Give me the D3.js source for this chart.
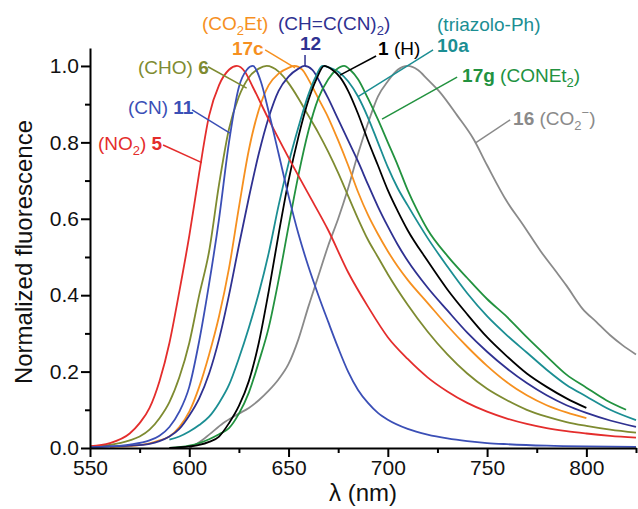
<!DOCTYPE html>
<html lang="en">
<head>
<meta charset="utf-8">
<title>Normalized fluorescence</title>
<script src="https://cdn.jsdelivr.net/npm/d3@7"></script>
<style>
  body { margin: 0; background: #fff; }
  .line { fill: none; stroke-width: 1.8px; stroke-linejoin: round; }
  text { font-family: "Liberation Sans", Arial, sans-serif; }
  .axis path, .axis line { stroke: #000; stroke-width: 2px; }
  .axis text { font-size: 21px; fill: #111; }
</style>
</head>
<body>
<svg id="chart" width="638" height="509"></svg>
<script>
// spectra: [wavelength nm, normalized fluorescence]
var no2_5 = [[550,0.005],[560,0.013],[570,0.038],[575,0.065],[580,0.105],[585,0.175],[590,0.275],[595,0.41],[600,0.555],[605,0.72],[610,0.87],[615,0.95],[620,0.99],[624,1.0],[628,0.985],[632,0.945],[640,0.86],[650,0.76],[660,0.665],[670,0.57],[680,0.46],[690,0.37],[700,0.29],[710,0.233],[720,0.185],[730,0.148],[740,0.118],[750,0.095],[760,0.077],[770,0.063],[780,0.052],[790,0.044],[800,0.038],[812,0.032],[825,0.027]];
var cn_11 = [[550,0.002],[560,0.004],[570,0.009],[580,0.02],[585,0.032],[590,0.055],[595,0.095],[600,0.16],[605,0.28],[610,0.43],[615,0.6],[620,0.8],[625,0.945],[629,0.99],[632,1.0],[636,0.96],[640,0.88],[645,0.77],[650,0.66],[655,0.56],[660,0.475],[665,0.4],[670,0.33],[675,0.262],[680,0.2],[685,0.152],[690,0.118],[695,0.092],[700,0.074],[710,0.05],[720,0.035],[730,0.025],[740,0.018],[750,0.013],[760,0.01],[780,0.006],[800,0.004],[825,0.003]];
var cho_6 = [[550,0.003],[560,0.008],[570,0.02],[575,0.03],[580,0.048],[585,0.078],[590,0.12],[595,0.185],[600,0.275],[605,0.4],[610,0.515],[615,0.69],[620,0.835],[625,0.92],[630,0.97],[635,0.993],[639,1.0],[645,0.985],[650,0.955],[655,0.915],[660,0.87],[665,0.825],[670,0.775],[675,0.72],[680,0.66],[685,0.6],[690,0.545],[695,0.5],[700,0.455],[710,0.375],[720,0.305],[730,0.245],[740,0.195],[750,0.155],[760,0.125],[770,0.1],[780,0.082],[790,0.068],[800,0.058],[812,0.048],[825,0.04]];
var co2et_17c = [[560,0.003],[570,0.005],[580,0.012],[585,0.02],[590,0.03],[595,0.055],[600,0.095],[605,0.16],[610,0.245],[615,0.345],[620,0.47],[625,0.63],[630,0.78],[635,0.885],[640,0.95],[645,0.98],[650,0.995],[653,1.0],[657,0.99],[660,0.965],[665,0.915],[670,0.865],[675,0.805],[680,0.74],[685,0.67],[690,0.61],[695,0.56],[700,0.515],[705,0.475],[710,0.44],[720,0.38],[730,0.32],[740,0.265],[750,0.215],[760,0.172],[770,0.138],[780,0.112],[790,0.093],[800,0.078]];
var dcv_12 = [[550,0.003],[560,0.004],[570,0.006],[580,0.011],[585,0.018],[590,0.03],[595,0.05],[600,0.085],[605,0.13],[610,0.195],[615,0.285],[620,0.4],[625,0.53],[630,0.655],[635,0.77],[640,0.865],[645,0.935],[650,0.972],[655,0.993],[658,1.0],[662,0.99],[667,0.945],[670,0.915],[675,0.86],[680,0.805],[685,0.75],[690,0.69],[695,0.632],[700,0.58],[705,0.532],[710,0.49],[720,0.42],[730,0.36],[740,0.302],[750,0.252],[760,0.208],[770,0.17],[780,0.138],[790,0.112],[800,0.092],[812,0.072],[825,0.055]];
var h_1 = [[590,0.0],[600,0.004],[605,0.008],[610,0.016],[615,0.03],[620,0.065],[625,0.11],[630,0.175],[635,0.275],[640,0.41],[645,0.56],[650,0.7],[655,0.815],[660,0.91],[664,0.965],[668,1.0],[672,0.99],[676,0.97],[680,0.935],[685,0.875],[690,0.805],[695,0.74],[700,0.675],[705,0.62],[710,0.57],[720,0.49],[730,0.415],[740,0.35],[750,0.29],[760,0.24],[770,0.195],[780,0.16],[790,0.13],[800,0.105]];
var triazolo_10a = [[590,0.022],[595,0.03],[600,0.043],[605,0.06],[610,0.082],[615,0.118],[620,0.165],[625,0.235],[630,0.315],[635,0.405],[640,0.51],[645,0.635],[650,0.745],[655,0.84],[660,0.925],[664,0.975],[667,1.0],[671,0.995],[675,0.985],[680,0.96],[685,0.92],[690,0.865],[695,0.8],[700,0.735],[705,0.68],[710,0.635],[720,0.55],[730,0.475],[740,0.405],[750,0.345],[760,0.295],[770,0.25],[780,0.205],[790,0.165],[800,0.135],[812,0.1],[825,0.073]];
var conet2_17g = [[590,0.0],[600,0.006],[605,0.013],[610,0.023],[615,0.036],[620,0.052],[625,0.09],[630,0.145],[635,0.225],[640,0.315],[645,0.44],[650,0.58],[655,0.715],[660,0.83],[665,0.915],[670,0.965],[674,0.99],[678,1.0],[681,0.99],[685,0.965],[690,0.915],[695,0.86],[700,0.8],[705,0.74],[710,0.675],[715,0.62],[720,0.572],[730,0.503],[740,0.445],[750,0.39],[760,0.343],[770,0.29],[780,0.24],[790,0.192],[800,0.158],[810,0.125],[820,0.1]];
var co2_16 = [[600,0.0],[605,0.015],[610,0.035],[617,0.065],[625,0.09],[630,0.105],[635,0.125],[640,0.15],[645,0.18],[650,0.22],[655,0.285],[660,0.37],[665,0.45],[670,0.53],[675,0.6],[680,0.68],[685,0.77],[690,0.85],[695,0.92],[700,0.96],[705,0.99],[710,1.0],[715,0.99],[720,0.965],[726,0.933],[735,0.87],[743,0.81],[750,0.74],[760,0.645],[768,0.585],[777,0.515],[785,0.46],[790,0.425],[798,0.365],[805,0.33],[812,0.295],[818,0.27],[825,0.245]];

var xTicks = [550, 600, 650, 700, 750, 800];
var yTicks = [0, 0.2, 0.4, 0.6, 0.8, 1.0];

var col = {red: "#e42d2c", blue: "#3b4fb6", olive: "#7e8b31", orange: "#f6901f", navy: "#2f3191",
           black: "#000000", teal: "#1b8e93", green: "#22923f", gray: "#8a8a8a"};

var series = [
  {data: co2_16, color: col.gray},
  {data: cho_6, color: col.olive},
  {data: co2et_17c, color: col.orange},
  {data: dcv_12, color: col.navy},
  {data: triazolo_10a, color: col.teal},
  {data: conet2_17g, color: col.green},
  {data: h_1, color: col.black},
  {data: no2_5, color: col.red},
  {data: cn_11, color: col.blue}
];

// annotations: text start and pointer ends in data units (nm, value)
var labels = [
  {color: col.red, at: [554, 0.78], parts: [["(NO"], ["2", "sub"], [") "], ["5", "b"]], line: [[586.8, 0.793], [606.3, 0.747]]},
  {color: col.blue, at: [569.1, 0.874], parts: [["(CN) "], ["11", "b"]], line: [[601.4, 0.885], [620.5, 0.824]]},
  {color: col.olive, at: [574.2, 0.979], parts: [["(CHO) "], ["6", "b"]], line: [[609.4, 0.998], [628.9, 0.942]]},
  {color: col.orange, at: [606.4, 1.094], parts: [["(CO"], ["2", "sub"], ["Et)"]]},
  {color: col.orange, at: [621.5, 1.029], parts: [["17c", "b"]], line: [[638.2, 1.042], [653.3, 0.995]]},
  {color: col.navy, at: [644.7, 1.094], parts: [["(CH=C(CN)"], ["2", "sub"], [")"]]},
  {color: col.navy, at: [655.8, 1.042], parts: [["12", "b"]], line: [[658.3, 1.029], [658.3, 1.0]]},
  {color: col.black, at: [695.1, 1.029], parts: [["1", "b"], [" (H)"]], line: [[694.1, 1.026], [675.9, 0.976]]},
  {color: col.teal, at: [724.8, 1.092], parts: [["(triazolo-Ph)"]]},
  {color: col.teal, at: [724.8, 1.037], parts: [["10a", "b"]], line: [[722.8, 1.042], [685, 0.92]]},
  {color: col.green, at: [737.4, 0.958], parts: [["17g", "b"], [" (CONEt"], ["2", "sub"], [")"]], line: [[734.9, 0.971], [697.1, 0.861]]},
  {color: col.gray, at: [763.1, 0.846], parts: [["16", "b"], [" (CO"], ["2", "sub"], ["\u2212", "sup"], [")"]], line: [[761.6, 0.859], [744, 0.798]]}
];

var margin = {top: 48, right: 2, bottom: 61, left: 90},
    width = 638 - margin.left - margin.right,
    height = 509 - margin.top - margin.bottom;

var x = d3.scaleLinear().domain([550, 825]).range([0, width]);
var y = d3.scaleLinear().domain([0, 1.047]).range([height, 0]);

var svg = d3.select("#chart")
  .append("g")
    .attr("transform", "translate(" + margin.left + "," + margin.top + ")");

var valueline = d3.line()
    .x(function(d) { return x(d[0]); })
    .y(function(d) { return y(d[1]); })
    .curve(d3.curveMonotoneX);

series.forEach(function(s) {
  svg.append("path")
      .datum(s.data)
      .attr("class", "line")
      .style("stroke", s.color)
      .attr("d", valueline);
});

// minor ticks first, then major axes on top
svg.append("g")
    .attr("class", "axis")
    .attr("transform", "translate(0," + height + ")")
    .call(d3.axisBottom(x).tickValues(d3.range(575, 826, 50)).tickSize(5).tickFormat(""))
    .select(".domain").remove();
svg.append("g")
    .attr("class", "axis")
    .call(d3.axisLeft(y).tickValues([0.1, 0.3, 0.5, 0.7, 0.9]).tickSize(5).tickFormat(""))
    .select(".domain").remove();

svg.append("g")
    .attr("class", "axis")
    .attr("transform", "translate(0," + height + ")")
    .call(d3.axisBottom(x).tickValues(xTicks).tickSize(9).tickSizeOuter(0).tickPadding(3));

svg.append("g")
    .attr("class", "axis")
    .call(d3.axisLeft(y).tickValues(yTicks).tickSize(9).tickSizeOuter(0).tickPadding(2)
      .tickFormat(d3.format(".1f")));

// axis titles
svg.append("text")
    .attr("x", width / 2)
    .attr("y", height + 53)
    .attr("text-anchor", "middle")
    .style("font-size", "24px")
    .style("fill", "#111")
    .text("\u03bb (nm)");

svg.append("text")
    .attr("transform", "translate(" + (32 - margin.left) + "," + (252 - margin.top) + ") rotate(-90)")
    .attr("text-anchor", "middle")
    .style("font-size", "24px")
    .style("fill", "#111")
    .text("Normalized fluorescence");

// curve labels
labels.forEach(function(l) {
  if (l.line) {
    svg.append("line")
        .attr("x1", x(l.line[0][0])).attr("y1", y(l.line[0][1]))
        .attr("x2", x(l.line[1][0])).attr("y2", y(l.line[1][1]))
        .style("stroke", l.color)
        .style("stroke-width", 1.5);
  }
  var t = svg.append("text")
      .attr("x", x(l.at[0]))
      .attr("y", y(l.at[1]))
      .style("font-size", "19px")
      .style("fill", l.color);
  var shift = 0;
  l.parts.forEach(function(p) {
    var ts = t.append("tspan").text(p[0]);
    var want = 0;
    if (p[1] === "sub") { want = 5; ts.style("font-size", "13px"); }
    if (p[1] === "sup") { want = -8; ts.style("font-size", "13px"); }
    if (p[1] === "b") ts.style("font-weight", "bold");
    if (want !== shift) { ts.attr("dy", want - shift); shift = want; }
  });
});
</script>
</body>
</html>
